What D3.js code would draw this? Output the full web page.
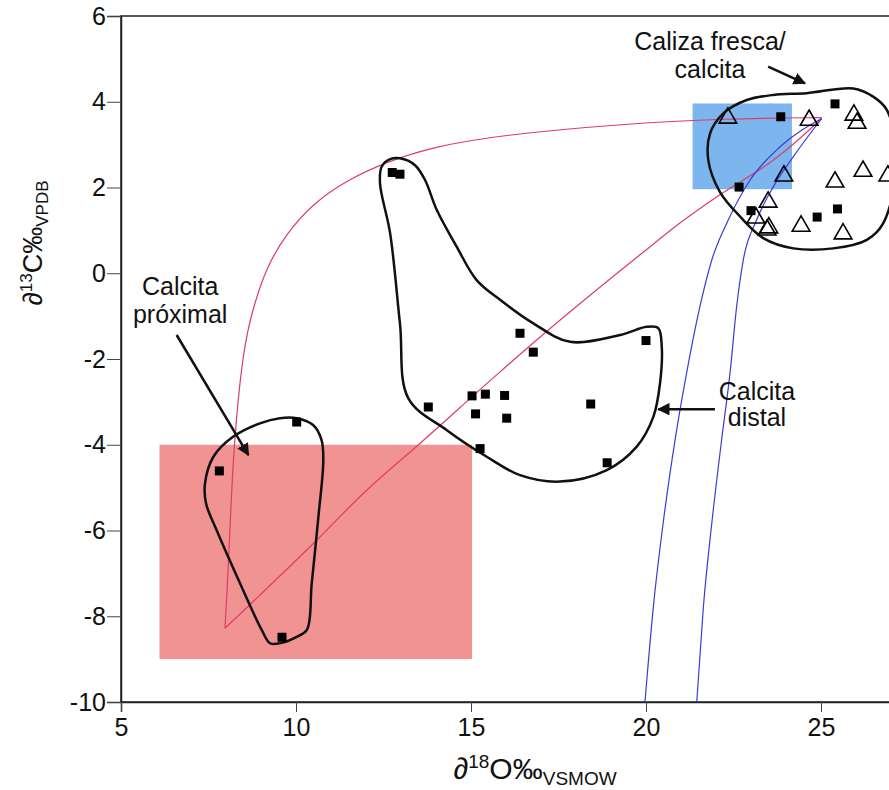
<!DOCTYPE html>
<html>
<head>
<meta charset="utf-8">
<script src="https://cdn.jsdelivr.net/npm/d3@7"></script>
<style>
  html, body { margin: 0; padding: 0; background: #fff; }
  svg { display: block; }
  text { font-family: "Liberation Sans", Arial, sans-serif; fill: #111; }
</style>
</head>
<body>
<svg id="chart" width="889" height="790"></svg>
<script>
// ---------------- data ----------------
const xTicks = [5, 10, 15, 20, 25];
const yTicks = [6, 4, 2, 0, -2, -4, -6, -8, -10];

// filled squares (δ18O VSMOW, δ13C VPDB)
const squares = [
  [25.4, 3.95], [23.85, 3.65], [22.66, 2.01], [23.0, 1.46], [24.89, 1.31], [25.47, 1.50],
  [12.75, 2.35], [12.97, 2.31], [16.4, -1.40], [16.78, -1.84], [20.0, -1.57],
  [13.78, -3.12], [15.03, -2.86], [15.41, -2.82], [15.96, -2.85], [15.13, -3.28],
  [16.02, -3.38], [18.42, -3.05], [15.26, -4.09], [18.89, -4.42],
  [10.02, -3.47], [7.81, -4.61], [9.6, -8.49]
];

// open triangles
const triangles = [
  [22.34, 3.62], [24.66, 3.57], [25.94, 3.69], [26.03, 3.50], [23.94, 2.27], [25.4, 2.13],
  [26.2, 2.38], [26.91, 2.27], [23.49, 1.66], [23.14, 1.29], [23.46, 1.01], [23.51, 1.06],
  [24.43, 1.10], [25.63, 0.92]
];

// shaded fields [x0, x1, y0, y1]
const blueField = [21.33, 24.17, 1.96, 3.96];
const redField = [6.1, 15.03, -9.0, -4.0];

// mixing curves
const redCurveUpper = [
  [7.97, -8.28], [8.02, -7.62], [8.11, -6.06], [8.21, -4.12], [8.48, -1.79], [8.78, -0.78],
  [9.16, 0.15], [9.73, 0.93], [10.49, 1.63], [11.45, 2.17], [12.59, 2.60], [13.92, 2.95],
  [15.83, 3.22], [19.26, 3.48], [22.31, 3.61], [25.02, 3.63]
];
const redCurveDiag = [
  [7.97, -8.28], [10.4, -6.38], [12.02, -5.06], [13.54, -3.97], [15.83, -2.30], [17.16, -1.36],
  [19.83, 0.43], [20.97, 1.17], [22.11, 1.83], [23.64, 2.64], [24.4, 3.15], [25.02, 3.61]
];
const blueCurveLeft = [
  [19.97, -10], [20.21, -7.78], [20.49, -5.83], [20.83, -3.89], [21.16, -2.33], [21.54, -0.78],
  [21.88, 0.31], [22.35, 1.24], [22.97, 2.17], [23.83, 2.95], [25.02, 3.61]
];
const blueCurveRight = [
  [21.45, -10], [21.64, -7.78], [21.88, -5.83], [22.16, -3.89], [22.4, -2.33], [22.59, -0.78],
  [22.78, 0.31], [23.16, 1.24], [23.64, 2.02], [24.21, 2.72], [25.02, 3.61]
];

// field outlines
const outlineProximal = [
  [10.02, -3.38], [10.49, -3.54], [10.73, -3.89], [10.78, -4.36], [10.64, -5.68], [10.45, -7.23],
  [10.31, -8.32], [10.02, -8.48], [9.59, -8.62], [9.26, -8.63], [9.02, -8.32], [8.4, -7.23],
  [7.73, -5.99], [7.43, -5.37], [7.4, -4.90], [7.64, -4.28], [8.21, -3.81], [8.97, -3.50], [9.54, -3.38]
];
const outlineDistal = [
  [12.97, 2.68], [13.4, 2.52], [13.69, 2.17], [14.02, 1.48], [14.59, 0.62], [15.16, -0.16],
  [15.83, -0.62], [16.78, -1.17], [17.83, -1.60], [19.26, -1.44], [20.02, -1.25], [20.35, -1.28],
  [20.45, -1.71], [20.4, -2.57], [20.21, -3.35], [19.73, -4.05], [18.88, -4.59], [17.54, -4.86],
  [16.4, -4.71], [15.45, -4.28], [14.31, -3.66], [13.21, -2.92], [12.97, -1.17], [12.69, 0.93],
  [12.4, 2.10], [12.45, 2.49], [12.69, 2.66]
];
const outlineFresh = [
  [24.59, 4.20], [25.92, 4.31], [26.49, 4.12], [26.88, 3.81], [27.17, 2.64], [26.78, 1.17],
  [26.31, 0.78], [25.35, 0.58], [24.21, 0.58], [23.35, 0.82], [22.69, 1.32], [22.11, 1.90],
  [21.78, 2.64], [21.83, 3.26], [22.21, 3.73], [22.88, 4.04], [23.64, 4.16]
];

// annotations: label lines (center x, baseline y) and arrows (from -> to)
const labels = [
  { text: "Caliza fresca/", x: 21.83, y: 5.21 },
  { text: "calcita", x: 21.83, y: 4.55 },
  { text: "Calcita", x: 6.69, y: -0.51 },
  { text: "próximal", x: 6.69, y: -1.16 },
  { text: "Calcita", x: 23.17, y: -2.96 },
  { text: "distal", x: 23.17, y: -3.56 }
];
const arrows = [
  [[23.49, 4.82], [24.54, 4.43]],
  [[6.59, -1.44], [8.64, -4.24]],
  [[21.97, -3.17], [20.35, -3.17]]
];

// ---------------- chart ----------------
const svg = d3.select("#chart");
const mLeft = 121, mTop = 16, mBottom = 702;
const x = d3.scaleLinear().domain([5, 30]).range([mLeft, mLeft + 25 * 35]);
const y = d3.scaleLinear().domain([-10, 6]).range([mBottom, mTop]);

const defs = svg.append("defs");
defs.append("marker")
  .attr("id", "ah").attr("viewBox", "0 0 10 10").attr("refX", 9).attr("refY", 5)
  .attr("markerWidth", 5).attr("markerHeight", 5).attr("orient", "auto")
  .attr("markerUnits", "strokeWidth")
  .append("path").attr("d", "M0,0 L10,5 L0,10 z").attr("fill", "#111");

// shaded fields
function field(f, color) {
  svg.append("rect")
    .attr("x", x(f[0])).attr("width", x(f[1]) - x(f[0]))
    .attr("y", y(f[3])).attr("height", y(f[2]) - y(f[3]))
    .attr("fill", color);
}
field(redField, "#f29393");
field(blueField, "#7db5ee");

// frame
svg.append("rect")
  .attr("x", x(5)).attr("y", y(6))
  .attr("width", x(30) - x(5)).attr("height", y(-10) - y(6))
  .attr("fill", "none").attr("stroke", "#222").attr("stroke-width", 1.5);

// axes
const yAxis = d3.axisLeft(y).tickValues(yTicks).tickSize(14).tickPadding(1).tickFormat(d => String(d));
const xAxis = d3.axisBottom(x).tickValues(xTicks).tickSize(10).tickPadding(6).tickFormat(d => String(d));

const gy = svg.append("g").attr("transform", `translate(${mLeft},0)`).call(yAxis);
const gx = svg.append("g").attr("transform", `translate(0,${mBottom})`).call(xAxis);
[gx, gy].forEach(g => {
  g.select(".domain").attr("stroke", "#222").attr("stroke-width", 1.5);
  g.selectAll(".tick line").attr("stroke", "#444").attr("stroke-width", 1);
  g.selectAll(".tick text")
    .attr("font-family", '"Liberation Sans", Arial, sans-serif')
    .attr("font-size", 25).attr("fill", "#111");
});

// curves
const smooth = d3.line().x(d => x(d[0])).y(d => y(d[1])).curve(d3.curveBasis);
const line = d3.line().x(d => x(d[0])).y(d => y(d[1])).curve(d3.curveMonotoneX);
svg.append("path").attr("d", smooth(redCurveUpper)).attr("fill", "none")
  .attr("stroke", "#dc3d67").attr("stroke-width", 1.2);
[[redCurveDiag, "#dc3d67"], [blueCurveLeft, "#3b3bd6"], [blueCurveRight, "#3b3bd6"]].forEach(([d, c]) => {
  svg.append("path").attr("d", line(d)).attr("fill", "none")
    .attr("stroke", c).attr("stroke-width", 1.2);
});

// outlines
const closed = d3.line().x(d => x(d[0])).y(d => y(d[1])).curve(d3.curveCatmullRomClosed.alpha(0.5));
[outlineProximal, outlineDistal, outlineFresh].forEach(d => {
  svg.append("path").attr("d", closed(d)).attr("fill", "none")
    .attr("stroke", "#111").attr("stroke-width", 2.5);
});

// points
const sq = 9;
svg.append("g").selectAll("rect").data(squares).join("rect")
  .attr("x", d => x(d[0]) - sq / 2).attr("y", d => y(d[1]) - sq / 2)
  .attr("width", sq).attr("height", sq).attr("fill", "#000");

const tri = d3.symbol().type(d3.symbolTriangle).size(135);
svg.append("g").selectAll("path").data(triangles).join("path")
  .attr("d", tri)
  .attr("transform", d => `translate(${x(d[0])},${y(d[1])})`)
  .attr("fill", "none").attr("stroke", "#000").attr("stroke-width", 1.6);

// annotations
svg.append("g").selectAll("text").data(labels).join("text")
  .attr("x", d => x(d.x)).attr("y", d => y(d.y))
  .attr("text-anchor", "middle").attr("font-size", 25)
  .text(d => d.text);

svg.append("g").selectAll("line").data(arrows).join("line")
  .attr("x1", d => x(d[0][0])).attr("y1", d => y(d[0][1]))
  .attr("x2", d => x(d[1][0])).attr("y2", d => y(d[1][1]))
  .attr("stroke", "#111").attr("stroke-width", 2.5)
  .attr("marker-end", "url(#ah)");

// axis titles
const xt = svg.append("text").attr("x", 535).attr("y", 779).attr("text-anchor", "middle")
  .attr("font-size", 30).attr("fill", "#333");
xt.append("tspan").text("∂");
xt.append("tspan").attr("font-size", 19).attr("dy", -11).text("18");
xt.append("tspan").attr("dy", 11).text("O‰");
xt.append("tspan").attr("font-size", 19).attr("dy", 6).text("VSMOW");

const yt = svg.append("text").attr("transform", "translate(42,243) rotate(-90)")
  .attr("text-anchor", "middle").attr("font-size", 27).attr("fill", "#333");
yt.append("tspan").text("∂");
yt.append("tspan").attr("font-size", 17).attr("dy", -10).text("13");
yt.append("tspan").attr("dy", 10).text("C‰");
yt.append("tspan").attr("font-size", 17).attr("dy", 6).text("VPDB");
</script>
</body>
</html>
